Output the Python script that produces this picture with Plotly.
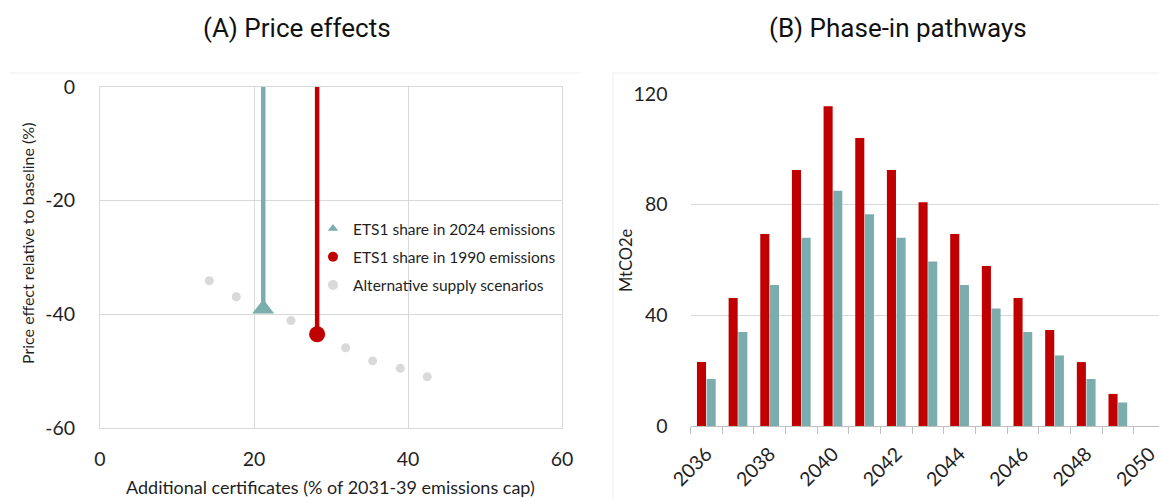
import plotly.graph_objects as go

# ---- Panel A: price effects ----
alt_x = [14.2, 17.7, 24.8, 31.9, 35.4, 39.0, 42.5]
alt_y = [-34.1, -36.9, -41.1, -45.9, -48.2, -49.5, -51.0]
share2024_x, share2024_y = 21.2, -39.0
share1990_x, share1990_y = 28.2, -43.5
a_xticks = [0, 20, 40, 60]
a_yticks = [0, -20, -40, -60]
a_yticklabels = ["0", "-20", "-40", "-60"]

# ---- Panel B: phase-in pathways ----
years = list(range(2036, 2050))
red_vals = [23.1, 46.3, 69.4, 92.5, 115.6, 104.1, 92.5, 80.9, 69.4, 57.8, 46.3, 34.7, 23.1, 11.6]
teal_vals = [17.0, 34.0, 51.0, 68.0, 85.0, 76.5, 68.0, 59.5, 51.0, 42.5, 34.0, 25.5, 17.0, 8.5]
b_xticks = [2036, 2038, 2040, 2042, 2044, 2046, 2048, 2050]
b_yticks = [0, 40, 80, 120]

RED = "#C00000"
TEAL = "#7BADAE"
LGRAY = "#D9D9D9"
TXT = "#1F1F1F"
FONT = "Lato"

W, H = 1159, 499

fig = go.Figure()

# vertical drop lines from the baseline to each point
fig.add_trace(go.Scatter(x=[share2024_x, share2024_x], y=[0, share2024_y], mode="lines",
                         line=dict(color=TEAL, width=4.5), showlegend=False,
                         xaxis="x", yaxis="y", hoverinfo="skip"))
fig.add_trace(go.Scatter(x=[share1990_x, share1990_x], y=[0, share1990_y], mode="lines",
                         line=dict(color=RED, width=4.5), showlegend=False,
                         xaxis="x", yaxis="y", hoverinfo="skip"))
fig.add_trace(go.Scatter(x=alt_x, y=alt_y, mode="markers",
                         marker=dict(color=LGRAY, size=9), showlegend=False,
                         xaxis="x", yaxis="y"))
fig.add_trace(go.Scatter(x=[share2024_x], y=[share2024_y], mode="markers",
                         marker=dict(color=TEAL, size=19, symbol="triangle-up"),
                         showlegend=False, xaxis="x", yaxis="y"))
fig.add_trace(go.Scatter(x=[share1990_x], y=[share1990_y], mode="markers",
                         marker=dict(color=RED, size=16), showlegend=False,
                         xaxis="x", yaxis="y"))

# legend entries with small symbols
legend_items = [
    ("ETS1 share in 2024 emissions", TEAL, "triangle-up", 9),
    ("ETS1 share in 1990 emissions", RED, "circle", 10),
    ("Alternative supply scenarios", LGRAY, "circle", 10),
]
for i, (name, col, sym, sz) in enumerate(legend_items):
    fig.add_trace(go.Scatter(x=[None], y=[None], mode="markers", name=name,
                             legendgroup=f"g{i}",
                             marker=dict(color=col, symbol=sym, size=sz),
                             xaxis="x", yaxis="y", showlegend=True))

# bars
fig.add_trace(go.Bar(x=years, y=red_vals, marker=dict(color=RED, line=dict(width=0)),
                     xaxis="x2", yaxis="y2", showlegend=False))
fig.add_trace(go.Bar(x=years, y=teal_vals, marker=dict(color=TEAL, line=dict(width=0)),
                     xaxis="x2", yaxis="y2", showlegend=False))


def px(x):
    return x / W


def py(y):
    return 1 - y / H


tickfont = dict(family=FONT, size=19.5, color=TXT)

fig.update_layout(
    width=W, height=H,
    margin=dict(l=0, r=0, t=0, b=0, autoexpand=False),
    paper_bgcolor="white", plot_bgcolor="white",
    barmode="group", bargap=0.39, bargroupgap=0.06,
    xaxis=dict(domain=[px(100), px(562)], range=[0, 60], tickvals=a_xticks,
               showgrid=True, gridcolor=LGRAY, gridwidth=1, zeroline=False,
               showline=True, linecolor=LGRAY, mirror=True, ticks="",
               tickfont=tickfont, ticklabelstandoff=14, anchor="y", automargin=False),
    yaxis=dict(domain=[py(428), py(87)], range=[-60, 0], tickvals=a_yticks,
               ticktext=a_yticklabels,
               showgrid=True, gridcolor=LGRAY, gridwidth=1, zeroline=False,
               showline=True, linecolor=LGRAY, mirror=True, ticks="",
               tickfont=tickfont, ticklabelstandoff=20, anchor="x", automargin=False),
    xaxis2=dict(domain=[px(690.5), 1.0], range=[2035.5, 2050.3], tickvals=b_xticks,
                tickangle=-45, showgrid=False, zeroline=False,
                showline=True, linecolor="#BFBFBF", ticks="",
                minor=dict(ticks="outside", tick0=2035.5, dtick=1, ticklen=7,
                           tickcolor="#BFBFBF", showgrid=False),
                tickfont=tickfont, ticklabelstandoff=8, ticklabeloverflow="allow",
                anchor="y2", automargin=False),
    yaxis2=dict(domain=[py(426), py(94)], range=[0, 120], tickvals=b_yticks,
                showgrid=True, gridcolor=LGRAY, gridwidth=1, zeroline=False,
                showline=False, ticks="", tickfont=tickfont, ticklabelstandoff=22,
                anchor="x2", automargin=False),
    legend=dict(x=px(313), y=py(212), xanchor="left", yanchor="top",
                bgcolor="rgba(0,0,0,0)", borderwidth=0,
                font=dict(family=FONT, size=15.5, color=TXT),
                traceorder="grouped", tracegroupgap=5, itemsizing="trace"),
    shapes=[
        # white patch behind the legend (sits above gridlines, below traces)
        dict(type="rect", xref="paper", yref="paper", x0=px(322), x1=px(561),
             y0=py(302), y1=py(213), fillcolor="white", line=dict(width=0),
             layer="between"),
        # faint chart-area borders
        dict(type="line", xref="paper", yref="paper", x0=px(9), x1=px(580),
             y0=py(73), y1=py(73), line=dict(color="#EFEFEF", width=1)),
        dict(type="line", xref="paper", yref="paper", x0=px(613), x1=1,
             y0=py(73), y1=py(73), line=dict(color="#EFEFEF", width=1)),
        dict(type="line", xref="paper", yref="paper", x0=px(613), x1=px(613),
             y0=0, y1=py(73), line=dict(color="#EFEFEF", width=1)),
    ],
    annotations=[
        dict(text="(A) Price effects", x=px(297), y=py(28), xref="paper", yref="paper",
             showarrow=False, xanchor="center", yanchor="middle",
             font=dict(family="Roboto", size=26, color="#111111")),
        dict(text="(B) Phase-in pathways", x=px(898), y=py(28), xref="paper", yref="paper",
             showarrow=False, xanchor="center", yanchor="middle",
             font=dict(family="Roboto", size=26, color="#111111")),
        dict(text="Additional certificates (% of 2031-39 emissions cap)",
             x=px(331), y=py(487), xref="paper", yref="paper", showarrow=False,
             xanchor="center", yanchor="middle",
             font=dict(family=FONT, size=18, color=TXT)),
        dict(text="Price effect relative to baseline (%)",
             x=px(27), y=py(244), xref="paper", yref="paper", showarrow=False,
             xanchor="center", yanchor="middle", textangle=-90,
             font=dict(family=FONT, size=16, color=TXT)),
        dict(text="MtCO2e",
             x=px(626), y=py(260), xref="paper", yref="paper", showarrow=False,
             xanchor="center", yanchor="middle", textangle=-90,
             font=dict(family=FONT, size=16.5, color=TXT)),
    ],
)

fig.write_html("out.html")
